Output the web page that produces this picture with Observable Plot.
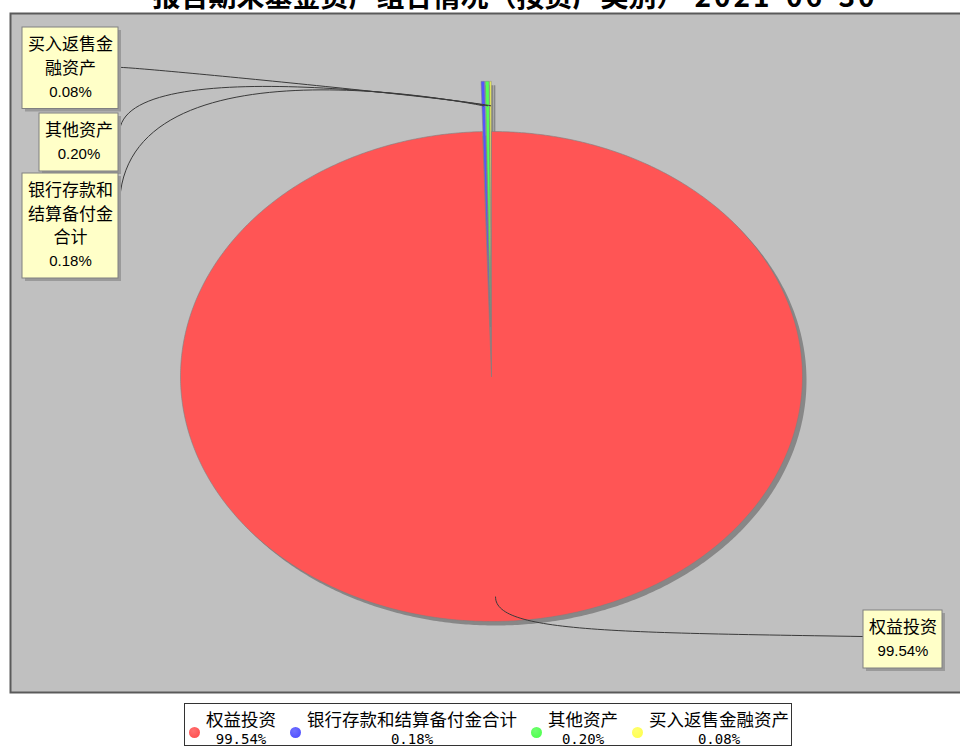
<!DOCTYPE html>
<html>
<head>
<meta charset="utf-8">
<script src="https://cdn.jsdelivr.net/npm/d3@7"></script>
<script src="https://cdn.jsdelivr.net/npm/@observablehq/plot@0.6"></script>
<style>
  html, body { margin: 0; padding: 0; background: #fff; }
  body { width: 960px; height: 749px; overflow: hidden; position: relative; font-family: "Noto Sans CJK SC", sans-serif; }
  #chart { position: absolute; left: 0; top: 0; }
  #title { position: absolute; left: 0; top: 0; width: 1030px; height: 11px; overflow: hidden; z-index: 2; }
  #title .t { position: absolute; left: 0; right: 0; top: -19px; text-align: center; font-size: 28px; line-height: 28px; font-weight: bold; white-space: nowrap; color: #000; }
  #title .t .d { letter-spacing: 3px; margin-left: 10px; }
  #legend { position: absolute; left: 184px; top: 703px; width: 608px; height: 43px; box-sizing: border-box; border: 1px solid #333; background: #fff; display: flex; align-items: flex-start; padding-left: 4px; }
  #legend .item { display: flex; align-items: flex-start; margin-right: 14px; }
  #legend .dot { width: 11px; height: 11px; border-radius: 50%; margin-top: 23px; margin-right: 6px; flex: none; }
  #legend .col { display: flex; flex-direction: column; align-items: center; }
  #legend .name { font-size: 17.5px; line-height: 20px; margin-top: 5px; white-space: nowrap; color: #000; }
  #legend .pct { font-family: "DejaVu Sans Mono", monospace; font-size: 14px; line-height: 16px; margin-top: 2px; color: #000; }
</style>
</head>
<body>
<div id="chart"></div>
<div id="title"><div class="t">报告期末基金资产组合情况（按资产类别）<span class="d">2021-06-30</span></div></div>
<div id="legend"></div>
<script>
// ---- data ----
const categories = ["权益投资", "银行存款和结算备付金合计", "其他资产", "买入返售金融资产"];
const values = [99.54, 0.18, 0.20, 0.08];
const percentLabels = ["99.54%", "0.18%", "0.20%", "0.08%"];
const labelLines = [["权益投资"], ["银行存款和", "结算备付金", "合计"], ["其他资产"], ["买入返售金", "融资产"]];
const colors = ["#ff5555", "#5555ff", "#55ff55", "#ffff55"];

// ---- layout ----
const W = 960, H = 700;
const cx = 491, cy = 376, rx = 311, ry = 245;
const ux = px => (px - cx) / rx;
const uy = py => (cy - py) / ry;
const toPx = (x, y) => [cx + x * rx, cy - y * ry];

const labelLayout = [
  {side: "right", x0: 863, top: 610, linkY: 636},
  {side: "left", x1: 118, top: 173, linkY: 207},
  {side: "left", x1: 118, top: 113, linkY: 133},
  {side: "left", x1: 118, top: 27, linkY: 67}
];

const data = categories.map((c, i) => ({cat: c, value: values[i], pct: percentLabels[i], lines: labelLines[i], i}));
const arcs = d3.pie().sort(null).value(d => d.value)(data);

// slice polygons
const sliceRows = [];
const anchors = [];
arcs.forEach(a => {
  const d = a.data;
  const mid = (a.startAngle + a.endAngle) / 2;
  const e = d.value < 1 ? 0.205 : 0;
  const ox = e * Math.sin(mid), oy = e * Math.cos(mid);
  const n = Math.max(4, Math.ceil((a.endAngle - a.startAngle) * 180 / Math.PI * 2));
  sliceRows.push({cat: d.cat, small: e > 0, x: ox, y: oy});
  for (let k = 0; k <= n; k++) {
    const t = a.startAngle + (a.endAngle - a.startAngle) * k / n;
    sliceRows.push({cat: d.cat, small: e > 0, x: ox + Math.sin(t), y: oy + Math.cos(t)});
  }
  sliceRows.push({cat: d.cat, small: e > 0, x: ox, y: oy});
  anchors.push(toPx(ox + 0.9 * Math.sin(mid), oy + 0.9 * Math.cos(mid)));
});

// link curves
function bez(p0, p1, p2, p3, n = 60) {
  const pts = [];
  for (let k = 0; k <= n; k++) {
    const t = k / n, m = 1 - t;
    const a = m * m * m, b = 3 * m * m * t, c = 3 * m * t * t, d = t * t * t;
    pts.push([a * p0[0] + b * p1[0] + c * p2[0] + d * p3[0], a * p0[1] + b * p1[1] + c * p2[1] + d * p3[1]]);
  }
  return pts;
}
const linkRows = [];
const boxes = [];
const nameRows = [];
const pctRows = [];
data.forEach((d, i) => {
  const L = labelLayout[i];
  const maxChars = Math.max(...d.lines.map(s => s.length));
  const bw = maxChars * 17 + 11;
  const nLines = d.lines.length + 1;
  const bh = nLines * 23.5 + 11;
  const x0 = L.side === "left" ? L.x1 - bw : L.x0;
  const x1 = x0 + bw;
  boxes.push({x1: ux(x0), x2: ux(x1), y1: uy(L.top), y2: uy(L.top + bh)});
  const xc = (x0 + x1) / 2;
  d.lines.forEach((s, k) => nameRows.push({text: s, x: ux(xc), y: uy(L.top + 17.5 + k * 23.5)}));
  pctRows.push({text: d.pct, x: ux(xc), y: uy(L.top + 17.5 + d.lines.length * 23.5)});
  const A = anchors[i];
  let pts;
  if (L.side === "left") {
    const T = [x1 + 1, L.linkY];
    const yRef = A[1] - 40;
    pts = bez(T, [T[0], yRef - 0.18 * (T[1] - yRef)], [A[0] - 40, A[1] - 8], A);
  } else {
    const T = [x0 - 1, L.linkY];
    pts = bez(A, [A[0], A[1] + 35], [T[0] - 250, T[1] - 4], T);
  }
  pts.forEach(p => linkRows.push({cat: d.cat, x: ux(p[0]), y: uy(p[1])}));
});

const chart = Plot.plot({
  width: W,
  height: H,
  marginLeft: 10,
  marginRight: 0,
  marginTop: 13,
  marginBottom: 8,
  style: {fontFamily: "'Noto Sans CJK SC', sans-serif", background: "transparent", overflow: "visible"},
  x: {domain: [-1, 1], range: [cx - rx, cx + rx], axis: null},
  y: {domain: [-1, 1], range: [cy + ry, cy - ry], axis: null},
  color: {domain: categories, range: colors},
  marks: [
    Plot.frame({fill: "#c0c0c0", stroke: "#5a5a5a", strokeWidth: 2, insetRight: -4}),
    // shadows
    Plot.line(sliceRows, {x: "x", y: "y", z: "cat", fill: "#878787", stroke: "none", dx: 4, dy: 4, curve: "linear"}),
    // exploded small slices
    Plot.line(sliceRows.filter(d => d.small), {x: "x", y: "y", z: "cat", fill: "cat", stroke: "#808080", strokeWidth: 0.5, curve: "linear"}),
    // main slice
    Plot.line(sliceRows.filter(d => !d.small), {x: "x", y: "y", z: "cat", fill: "cat", stroke: "#808080", strokeWidth: 0.6, curve: "linear"}),
    // label links
    Plot.line(linkRows, {x: "x", y: "y", z: "cat", stroke: "#3a3a3a", strokeWidth: 1, curve: "linear"}),
    // label boxes
    Plot.rect(boxes, {x1: "x1", x2: "x2", y1: "y1", y2: "y2", fill: "#9a9a9a", dx: 3, dy: 3}),
    Plot.rect(boxes, {x1: "x1", x2: "x2", y1: "y1", y2: "y2", fill: "#ffffc8", stroke: "#808080", strokeWidth: 1}),
    Plot.text(nameRows, {x: "x", y: "y", text: "text", fontSize: 17, fill: "#000", fontFamily: "'Noto Sans CJK SC', sans-serif"}),
    Plot.text(pctRows, {x: "x", y: "y", text: "text", fontSize: 15, fill: "#000", fontFamily: "'Liberation Sans', sans-serif"})
  ]
});
document.getElementById("chart").appendChild(chart);

// legend
const lighten = c => d3.color(c).brighter(0.8).formatHex();
const legend = document.getElementById("legend");
data.forEach((d, i) => {
  const item = document.createElement("div");
  item.className = "item";
  const dot = document.createElement("div");
  dot.className = "dot";
  dot.style.background = `radial-gradient(circle at 40% 35%, ${lighten(colors[i])} 0%, ${colors[i]} 65%)`;
  const col = document.createElement("div");
  col.className = "col";
  const nm = document.createElement("div");
  nm.className = "name";
  nm.textContent = d.cat;
  const pc = document.createElement("div");
  pc.className = "pct";
  pc.textContent = d.pct;
  col.appendChild(nm);
  col.appendChild(pc);
  item.appendChild(dot);
  item.appendChild(col);
  legend.appendChild(item);
});
</script>
</body>
</html>
